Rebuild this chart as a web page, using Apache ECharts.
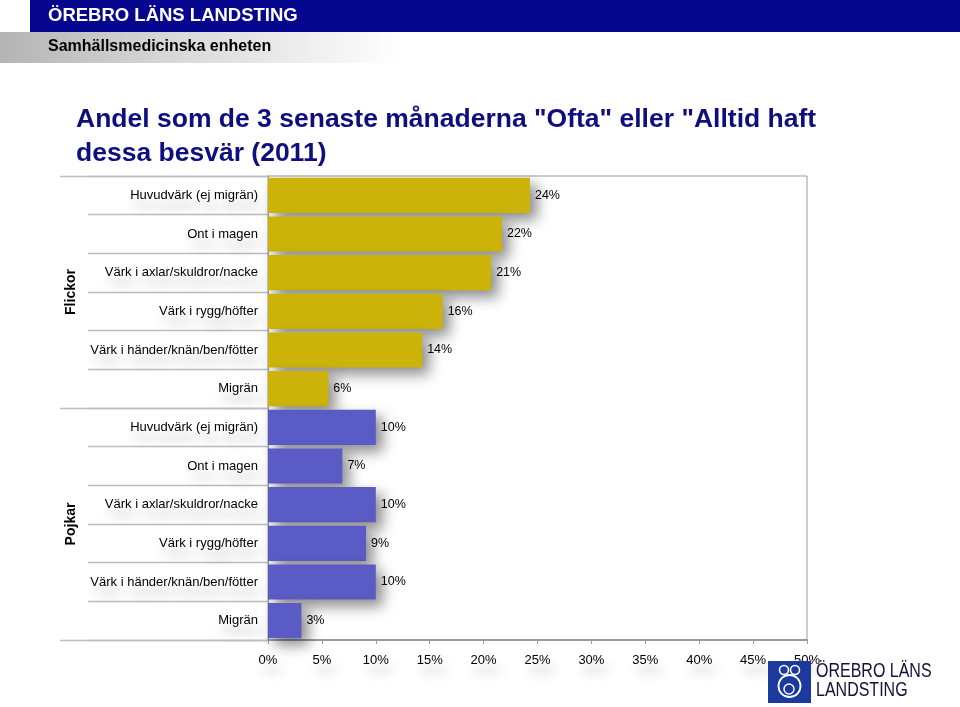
<!DOCTYPE html>
<html>
<head>
<meta charset="utf-8">
<script src="https://cdn.jsdelivr.net/npm/echarts@6/dist/echarts.min.js"></script>
<style>
html,body{margin:0;padding:0;background:#fff;}
#chart{width:960px;height:707px;}
</style>
</head>
<body>
<div id="chart"></div>
<script>
// ---- data ----
var symptoms = ['Huvudvärk (ej migrän)', 'Ont i magen', 'Värk i axlar/skuldror/nacke', 'Värk i rygg/höfter', 'Värk i händer/knän/ben/fötter', 'Migrän'];
var groups = ['Flickor', 'Pojkar'];
var flickorValues = [24.3, 21.7, 20.7, 16.2, 14.3, 5.6];
var pojkarValues = [10.0, 6.9, 10.0, 9.1, 10.0, 3.1];
var xTicks = [0, 5, 10, 15, 20, 25, 30, 35, 40, 45, 50];
var groupColors = ['#cbb30a', '#5b5bc6'];

var categories = symptoms.map(function (s) { return 'F|' + s; }).concat(symptoms.map(function (s) { return 'P|' + s; }));
var values = flickorValues.concat(pojkarValues);
var barData = values.map(function (v, i) {
  return { value: v, itemStyle: { color: groupColors[i < symptoms.length ? 0 : 1] } };
});

var FONT = '"Liberation Sans", Arial, sans-serif';
var labelShadow = { textShadowColor: 'rgba(0,0,0,0.3)', textShadowBlur: 12, textShadowOffsetX: 4, textShadowOffsetY: 10 };

var chart = echarts.init(document.getElementById('chart'), null, { renderer: 'canvas' });
chart.setOption({
  backgroundColor: '#ffffff',
  animation: false,
  title: {
    text: 'Andel som de 3 senaste månaderna "Ofta" eller "Alltid haft\ndessa besvär (2011)',
    left: 71, top: 98,
    textStyle: { fontFamily: FONT, fontSize: 26.5, fontWeight: 'bold', color: '#0e0e80', lineHeight: 34 }
  },
  grid: { left: 268, right: 153, top: 176, bottom: 67, show: true, borderColor: '#9a9a9a', borderWidth: 1, backgroundColor: 'transparent' },
  xAxis: {
    type: 'value', min: xTicks[0], max: xTicks[xTicks.length - 1], interval: 5,
    axisLine: { show: true, lineStyle: { color: '#8a8a8a', width: 1.5 } },
    axisTick: { show: true, length: 4, lineStyle: { color: '#9a9a9a' } },
    splitLine: { show: false },
    axisLabel: Object.assign({ margin: 14, fontFamily: FONT, fontSize: 13, color: '#000',
      formatter: function (v) { return v + '%'; } }, labelShadow)
  },
  yAxis: [{
    type: 'category', data: categories, inverse: true, position: 'left',
    axisLine: { show: true, lineStyle: { color: '#9a9a9a' } },
    axisTick: { show: true, length: 180, lineStyle: { color: '#bdbdc6', width: 1.3 } },
    axisLabel: Object.assign({ margin: 10, fontFamily: FONT, fontSize: 13, color: '#000',
      formatter: function (v) { return v.split('|')[1]; } }, labelShadow)
  }, {
    type: 'category', data: groups, inverse: true, position: 'left', offset: 0,
    axisLine: { show: false },
    axisTick: { show: true, length: 208, lineStyle: { color: '#bdbdc6', width: 1.3 } },
    axisLabel: { rotate: 90, margin: 190, fontFamily: FONT, fontSize: 14, fontWeight: 'bold', color: '#000' }
  }],
  series: [{
    type: 'bar', yAxisIndex: 0, data: barData, barCategoryGap: '9%',
    itemStyle: { shadowColor: 'rgba(0,0,0,0.45)', shadowBlur: 14, shadowOffsetX: 7, shadowOffsetY: 7 },
    label: { show: true, position: 'right', distance: 5, fontFamily: FONT, fontSize: 12.5, color: '#000',
      formatter: function (p) { return Math.round(p.value) + '%'; } }
  }],
  graphic: [
    { type: 'rect', shape: { x: 30, y: 0, width: 930, height: 32 }, style: { fill: '#06068e' }, z: 100 },
    { type: 'text', x: 48, y: 16, style: { text: 'ÖREBRO LÄNS LANDSTING', fill: '#fff', font: 'bold 18.5px ' + FONT, textVerticalAlign: 'middle' }, z: 101 },
    { type: 'rect', shape: { x: 0, y: 32, width: 960, height: 31 },
      style: { fill: new echarts.graphic.LinearGradient(0, 0, 1, 0, [
        { offset: 0, color: '#b4b4b4' }, { offset: 0.18, color: '#d8d8d8' }, { offset: 0.42, color: '#ffffff' }, { offset: 1, color: '#ffffff' }]) }, z: 100 },
    { type: 'text', x: 48, y: 47, style: { text: 'Samhällsmedicinska enheten', fill: '#000', font: 'bold 16px ' + FONT, textVerticalAlign: 'middle' }, z: 101 },
    // logo
    { type: 'rect', shape: { x: 768, y: 661, width: 43, height: 42 }, style: { fill: '#1c3a9e' }, z: 100 },
    { type: 'circle', shape: { cx: 784, cy: 670, r: 4.5 }, style: { fill: 'none', stroke: '#fff', lineWidth: 1.6 }, z: 101 },
    { type: 'circle', shape: { cx: 795, cy: 670, r: 4.5 }, style: { fill: 'none', stroke: '#fff', lineWidth: 1.6 }, z: 101 },
    { type: 'circle', shape: { cx: 789.5, cy: 686, r: 11 }, style: { fill: 'none', stroke: '#fff', lineWidth: 1.8 }, z: 101 },
    { type: 'circle', shape: { cx: 789, cy: 689, r: 5 }, style: { fill: 'none', stroke: '#fff', lineWidth: 1.4 }, z: 101 },
    { type: 'text', x: 816, y: 671, scaleX: 0.8, style: { text: 'ÖREBRO LÄNS', fill: '#12123a', font: '20px ' + FONT, textVerticalAlign: 'middle' }, z: 100 },
    { type: 'text', x: 816, y: 690, scaleX: 0.8, style: { text: 'LANDSTING', fill: '#12123a', font: '20px ' + FONT, textVerticalAlign: 'middle' }, z: 100 },
    { type: 'rect', shape: { x: 931, y: 655, width: 29, height: 52 }, style: { fill: '#fff' }, z: 102 }
  ]
});
</script>
</body>
</html>
